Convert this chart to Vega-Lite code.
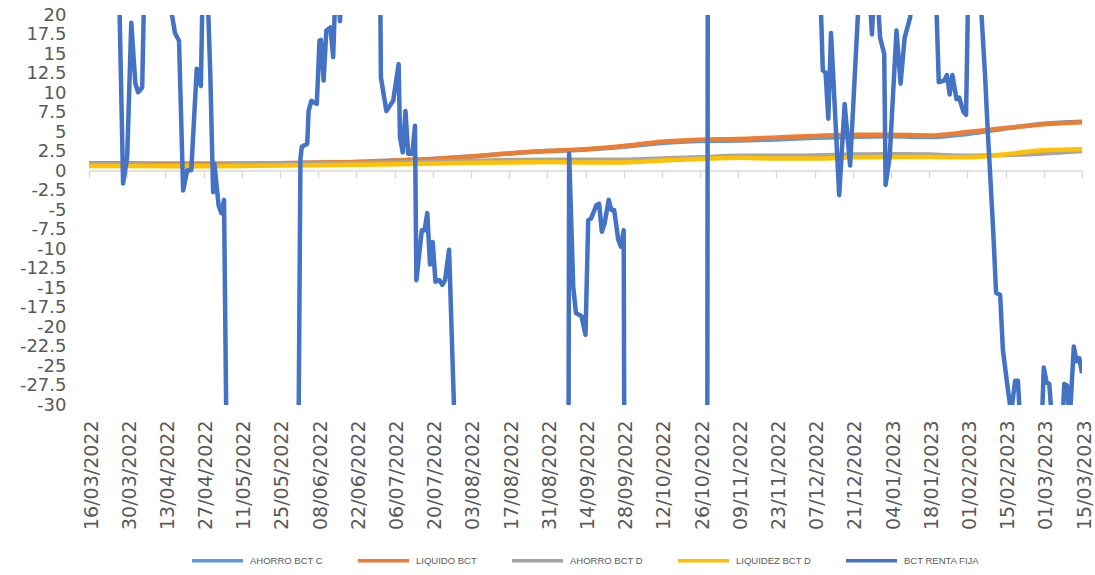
{
  "$schema": "https://vega.github.io/schema/vega-lite/v6.json",
  "width": 993,
  "height": 390,
  "autosize": {"type": "none"},
  "padding": {"left": 89, "top": 15, "right": 13, "bottom": 170},
  "background": "white",
  "config": {"view": {"stroke": null}},
  "datasets": {
    "axisrow": [{"d0": "2022-03-16T00:00", "d1": "2023-03-15T00:00"}],
    "smooth": [
      {"date":"2022-03-16T00:00","series":"AHORRO BCT C","value":0.9},
      {"date":"2022-03-30T00:00","series":"AHORRO BCT C","value":0.9},
      {"date":"2022-04-13T00:00","series":"AHORRO BCT C","value":0.85},
      {"date":"2022-04-27T00:00","series":"AHORRO BCT C","value":0.85},
      {"date":"2022-05-11T00:00","series":"AHORRO BCT C","value":0.9},
      {"date":"2022-05-25T00:00","series":"AHORRO BCT C","value":0.95},
      {"date":"2022-06-08T00:00","series":"AHORRO BCT C","value":1.05},
      {"date":"2022-06-22T00:00","series":"AHORRO BCT C","value":1.15},
      {"date":"2022-07-06T00:00","series":"AHORRO BCT C","value":1.35},
      {"date":"2022-07-20T00:00","series":"AHORRO BCT C","value":1.55},
      {"date":"2022-08-03T00:00","series":"AHORRO BCT C","value":1.85},
      {"date":"2022-08-17T00:00","series":"AHORRO BCT C","value":2.25},
      {"date":"2022-08-31T00:00","series":"AHORRO BCT C","value":2.55},
      {"date":"2022-09-14T00:00","series":"AHORRO BCT C","value":2.75},
      {"date":"2022-09-28T00:00","series":"AHORRO BCT C","value":3.1},
      {"date":"2022-10-12T00:00","series":"AHORRO BCT C","value":3.6},
      {"date":"2022-10-26T00:00","series":"AHORRO BCT C","value":3.85},
      {"date":"2022-11-09T00:00","series":"AHORRO BCT C","value":3.9},
      {"date":"2022-11-23T00:00","series":"AHORRO BCT C","value":4.05},
      {"date":"2022-12-07T00:00","series":"AHORRO BCT C","value":4.25},
      {"date":"2022-12-21T00:00","series":"AHORRO BCT C","value":4.4},
      {"date":"2023-01-04T00:00","series":"AHORRO BCT C","value":4.45},
      {"date":"2023-01-18T00:00","series":"AHORRO BCT C","value":4.35},
      {"date":"2023-02-01T00:00","series":"AHORRO BCT C","value":4.75},
      {"date":"2023-02-15T00:00","series":"AHORRO BCT C","value":5.45},
      {"date":"2023-03-01T00:00","series":"AHORRO BCT C","value":6.05},
      {"date":"2023-03-15T00:00","series":"AHORRO BCT C","value":6.3},
      {"date":"2022-03-16T00:00","series":"LIQUIDO BCT","value":1.0},
      {"date":"2022-03-30T00:00","series":"LIQUIDO BCT","value":1.0},
      {"date":"2022-04-13T00:00","series":"LIQUIDO BCT","value":0.95},
      {"date":"2022-04-27T00:00","series":"LIQUIDO BCT","value":0.95},
      {"date":"2022-05-11T00:00","series":"LIQUIDO BCT","value":0.95},
      {"date":"2022-05-25T00:00","series":"LIQUIDO BCT","value":1.0},
      {"date":"2022-06-08T00:00","series":"LIQUIDO BCT","value":1.1},
      {"date":"2022-06-22T00:00","series":"LIQUIDO BCT","value":1.15},
      {"date":"2022-07-06T00:00","series":"LIQUIDO BCT","value":1.35},
      {"date":"2022-07-20T00:00","series":"LIQUIDO BCT","value":1.55},
      {"date":"2022-08-03T00:00","series":"LIQUIDO BCT","value":1.85},
      {"date":"2022-08-17T00:00","series":"LIQUIDO BCT","value":2.25},
      {"date":"2022-08-31T00:00","series":"LIQUIDO BCT","value":2.55},
      {"date":"2022-09-14T00:00","series":"LIQUIDO BCT","value":2.8},
      {"date":"2022-09-28T00:00","series":"LIQUIDO BCT","value":3.2},
      {"date":"2022-10-12T00:00","series":"LIQUIDO BCT","value":3.75},
      {"date":"2022-10-26T00:00","series":"LIQUIDO BCT","value":4.0},
      {"date":"2022-11-09T00:00","series":"LIQUIDO BCT","value":4.1},
      {"date":"2022-11-23T00:00","series":"LIQUIDO BCT","value":4.3},
      {"date":"2022-12-07T00:00","series":"LIQUIDO BCT","value":4.5},
      {"date":"2022-12-21T00:00","series":"LIQUIDO BCT","value":4.65},
      {"date":"2023-01-04T00:00","series":"LIQUIDO BCT","value":4.65},
      {"date":"2023-01-18T00:00","series":"LIQUIDO BCT","value":4.55},
      {"date":"2023-02-01T00:00","series":"LIQUIDO BCT","value":5.0},
      {"date":"2023-02-15T00:00","series":"LIQUIDO BCT","value":5.5},
      {"date":"2023-03-01T00:00","series":"LIQUIDO BCT","value":6.0},
      {"date":"2023-03-15T00:00","series":"LIQUIDO BCT","value":6.25},
      {"date":"2022-03-16T00:00","series":"AHORRO BCT D","value":0.85},
      {"date":"2022-03-30T00:00","series":"AHORRO BCT D","value":0.85},
      {"date":"2022-04-13T00:00","series":"AHORRO BCT D","value":0.8},
      {"date":"2022-04-27T00:00","series":"AHORRO BCT D","value":0.8},
      {"date":"2022-05-11T00:00","series":"AHORRO BCT D","value":0.85},
      {"date":"2022-05-25T00:00","series":"AHORRO BCT D","value":0.9},
      {"date":"2022-06-08T00:00","series":"AHORRO BCT D","value":0.95},
      {"date":"2022-06-22T00:00","series":"AHORRO BCT D","value":1.0},
      {"date":"2022-07-06T00:00","series":"AHORRO BCT D","value":1.1},
      {"date":"2022-07-20T00:00","series":"AHORRO BCT D","value":1.2},
      {"date":"2022-08-03T00:00","series":"AHORRO BCT D","value":1.3},
      {"date":"2022-08-17T00:00","series":"AHORRO BCT D","value":1.4},
      {"date":"2022-08-31T00:00","series":"AHORRO BCT D","value":1.45},
      {"date":"2022-09-14T00:00","series":"AHORRO BCT D","value":1.45},
      {"date":"2022-09-28T00:00","series":"AHORRO BCT D","value":1.45},
      {"date":"2022-10-12T00:00","series":"AHORRO BCT D","value":1.6},
      {"date":"2022-10-26T00:00","series":"AHORRO BCT D","value":1.75},
      {"date":"2022-11-09T00:00","series":"AHORRO BCT D","value":1.95},
      {"date":"2022-11-23T00:00","series":"AHORRO BCT D","value":1.95},
      {"date":"2022-12-07T00:00","series":"AHORRO BCT D","value":2.0},
      {"date":"2022-12-21T00:00","series":"AHORRO BCT D","value":2.1},
      {"date":"2023-01-04T00:00","series":"AHORRO BCT D","value":2.15},
      {"date":"2023-01-18T00:00","series":"AHORRO BCT D","value":2.1},
      {"date":"2023-02-01T00:00","series":"AHORRO BCT D","value":1.95},
      {"date":"2023-02-15T00:00","series":"AHORRO BCT D","value":2.05},
      {"date":"2023-03-01T00:00","series":"AHORRO BCT D","value":2.25},
      {"date":"2023-03-15T00:00","series":"AHORRO BCT D","value":2.55},
      {"date":"2022-03-16T00:00","series":"LIQUIDEZ BCT D","value":0.65},
      {"date":"2022-03-30T00:00","series":"LIQUIDEZ BCT D","value":0.65},
      {"date":"2022-04-13T00:00","series":"LIQUIDEZ BCT D","value":0.62},
      {"date":"2022-04-27T00:00","series":"LIQUIDEZ BCT D","value":0.62},
      {"date":"2022-05-11T00:00","series":"LIQUIDEZ BCT D","value":0.65},
      {"date":"2022-05-25T00:00","series":"LIQUIDEZ BCT D","value":0.7},
      {"date":"2022-06-08T00:00","series":"LIQUIDEZ BCT D","value":0.75},
      {"date":"2022-06-22T00:00","series":"LIQUIDEZ BCT D","value":0.8},
      {"date":"2022-07-06T00:00","series":"LIQUIDEZ BCT D","value":0.85},
      {"date":"2022-07-20T00:00","series":"LIQUIDEZ BCT D","value":0.95},
      {"date":"2022-08-03T00:00","series":"LIQUIDEZ BCT D","value":1.05},
      {"date":"2022-08-17T00:00","series":"LIQUIDEZ BCT D","value":1.1},
      {"date":"2022-08-31T00:00","series":"LIQUIDEZ BCT D","value":1.15},
      {"date":"2022-09-14T00:00","series":"LIQUIDEZ BCT D","value":1.1},
      {"date":"2022-09-28T00:00","series":"LIQUIDEZ BCT D","value":1.1},
      {"date":"2022-10-12T00:00","series":"LIQUIDEZ BCT D","value":1.35},
      {"date":"2022-10-26T00:00","series":"LIQUIDEZ BCT D","value":1.55},
      {"date":"2022-11-09T00:00","series":"LIQUIDEZ BCT D","value":1.7},
      {"date":"2022-11-23T00:00","series":"LIQUIDEZ BCT D","value":1.6},
      {"date":"2022-12-07T00:00","series":"LIQUIDEZ BCT D","value":1.6},
      {"date":"2022-12-21T00:00","series":"LIQUIDEZ BCT D","value":1.75},
      {"date":"2023-01-04T00:00","series":"LIQUIDEZ BCT D","value":1.8},
      {"date":"2023-01-18T00:00","series":"LIQUIDEZ BCT D","value":1.8},
      {"date":"2023-02-01T00:00","series":"LIQUIDEZ BCT D","value":1.75},
      {"date":"2023-02-15T00:00","series":"LIQUIDEZ BCT D","value":2.15},
      {"date":"2023-03-01T00:00","series":"LIQUIDEZ BCT D","value":2.65},
      {"date":"2023-03-15T00:00","series":"LIQUIDEZ BCT D","value":2.8}
    ],
    "blue": [
      {"date":"2022-03-16T00:00","series":"BCT RENTA FIJA","value":40},
      {"date":"2022-03-22T00:00","series":"BCT RENTA FIJA","value":45},
      {"date":"2022-03-27T00:00","series":"BCT RENTA FIJA","value":24},
      {"date":"2022-03-28T12:00","series":"BCT RENTA FIJA","value":-1.6},
      {"date":"2022-03-30T00:00","series":"BCT RENTA FIJA","value":1.8},
      {"date":"2022-03-31T12:00","series":"BCT RENTA FIJA","value":19.0},
      {"date":"2022-04-02T00:00","series":"BCT RENTA FIJA","value":11.2},
      {"date":"2022-04-03T00:00","series":"BCT RENTA FIJA","value":10.1},
      {"date":"2022-04-04T12:00","series":"BCT RENTA FIJA","value":10.7},
      {"date":"2022-04-05T12:00","series":"BCT RENTA FIJA","value":28},
      {"date":"2022-04-10T00:00","series":"BCT RENTA FIJA","value":45},
      {"date":"2022-04-14T12:00","series":"BCT RENTA FIJA","value":22},
      {"date":"2022-04-16T12:00","series":"BCT RENTA FIJA","value":17.7},
      {"date":"2022-04-18T00:00","series":"BCT RENTA FIJA","value":16.7},
      {"date":"2022-04-19T12:00","series":"BCT RENTA FIJA","value":-2.5},
      {"date":"2022-04-21T00:00","series":"BCT RENTA FIJA","value":0.1},
      {"date":"2022-04-22T12:00","series":"BCT RENTA FIJA","value":0.1},
      {"date":"2022-04-24T12:00","series":"BCT RENTA FIJA","value":13.1},
      {"date":"2022-04-26T00:00","series":"BCT RENTA FIJA","value":10.9},
      {"date":"2022-04-27T00:00","series":"BCT RENTA FIJA","value":30},
      {"date":"2022-04-28T00:00","series":"BCT RENTA FIJA","value":28},
      {"date":"2022-04-29T12:00","series":"BCT RENTA FIJA","value":12},
      {"date":"2022-04-30T12:00","series":"BCT RENTA FIJA","value":-2.7},
      {"date":"2022-05-01T00:00","series":"BCT RENTA FIJA","value":0.9},
      {"date":"2022-05-02T12:00","series":"BCT RENTA FIJA","value":-4.4},
      {"date":"2022-05-03T12:00","series":"BCT RENTA FIJA","value":-5.4},
      {"date":"2022-05-04T12:00","series":"BCT RENTA FIJA","value":-3.7},
      {"date":"2022-05-05T12:00","series":"BCT RENTA FIJA","value":-38},
      {"date":"2022-05-15T00:00","series":"BCT RENTA FIJA","value":-60},
      {"date":"2022-05-25T00:00","series":"BCT RENTA FIJA","value":-60},
      {"date":"2022-05-31T12:00","series":"BCT RENTA FIJA","value":-50},
      {"date":"2022-06-01T12:00","series":"BCT RENTA FIJA","value":1.5},
      {"date":"2022-06-02T00:00","series":"BCT RENTA FIJA","value":3.1},
      {"date":"2022-06-04T00:00","series":"BCT RENTA FIJA","value":3.5},
      {"date":"2022-06-04T12:00","series":"BCT RENTA FIJA","value":7.7},
      {"date":"2022-06-05T12:00","series":"BCT RENTA FIJA","value":9.0},
      {"date":"2022-06-07T12:00","series":"BCT RENTA FIJA","value":8.6},
      {"date":"2022-06-08T12:00","series":"BCT RENTA FIJA","value":16.7},
      {"date":"2022-06-09T00:00","series":"BCT RENTA FIJA","value":16.8},
      {"date":"2022-06-10T00:00","series":"BCT RENTA FIJA","value":11.6},
      {"date":"2022-06-11T00:00","series":"BCT RENTA FIJA","value":18.0},
      {"date":"2022-06-12T12:00","series":"BCT RENTA FIJA","value":18.4},
      {"date":"2022-06-13T12:00","series":"BCT RENTA FIJA","value":14.6},
      {"date":"2022-06-14T00:00","series":"BCT RENTA FIJA","value":19.7},
      {"date":"2022-06-15T12:00","series":"BCT RENTA FIJA","value":24},
      {"date":"2022-06-16T00:00","series":"BCT RENTA FIJA","value":19.2},
      {"date":"2022-06-17T00:00","series":"BCT RENTA FIJA","value":26},
      {"date":"2022-06-24T00:00","series":"BCT RENTA FIJA","value":45},
      {"date":"2022-06-30T12:00","series":"BCT RENTA FIJA","value":35},
      {"date":"2022-07-01T00:00","series":"BCT RENTA FIJA","value":12.0},
      {"date":"2022-07-03T00:00","series":"BCT RENTA FIJA","value":7.7},
      {"date":"2022-07-05T12:00","series":"BCT RENTA FIJA","value":9.0},
      {"date":"2022-07-07T12:00","series":"BCT RENTA FIJA","value":13.7},
      {"date":"2022-07-08T00:00","series":"BCT RENTA FIJA","value":4.3},
      {"date":"2022-07-09T00:00","series":"BCT RENTA FIJA","value":2.4},
      {"date":"2022-07-10T00:00","series":"BCT RENTA FIJA","value":7.7},
      {"date":"2022-07-11T00:00","series":"BCT RENTA FIJA","value":2.2},
      {"date":"2022-07-12T12:00","series":"BCT RENTA FIJA","value":2.2},
      {"date":"2022-07-13T12:00","series":"BCT RENTA FIJA","value":5.8},
      {"date":"2022-07-14T00:00","series":"BCT RENTA FIJA","value":-14.0},
      {"date":"2022-07-16T00:00","series":"BCT RENTA FIJA","value":-7.6},
      {"date":"2022-07-17T00:00","series":"BCT RENTA FIJA","value":-7.6},
      {"date":"2022-07-18T00:00","series":"BCT RENTA FIJA","value":-5.4},
      {"date":"2022-07-19T00:00","series":"BCT RENTA FIJA","value":-12.0},
      {"date":"2022-07-20T00:00","series":"BCT RENTA FIJA","value":-9.1},
      {"date":"2022-07-21T00:00","series":"BCT RENTA FIJA","value":-14.2},
      {"date":"2022-07-22T12:00","series":"BCT RENTA FIJA","value":-14.0},
      {"date":"2022-07-23T12:00","series":"BCT RENTA FIJA","value":-14.6},
      {"date":"2022-07-24T12:00","series":"BCT RENTA FIJA","value":-14.0},
      {"date":"2022-07-26T00:00","series":"BCT RENTA FIJA","value":-10.1},
      {"date":"2022-07-27T12:00","series":"BCT RENTA FIJA","value":-27},
      {"date":"2022-07-28T12:00","series":"BCT RENTA FIJA","value":-38},
      {"date":"2022-08-08T00:00","series":"BCT RENTA FIJA","value":-60},
      {"date":"2022-08-28T00:00","series":"BCT RENTA FIJA","value":-60},
      {"date":"2022-09-07T12:00","series":"BCT RENTA FIJA","value":-80},
      {"date":"2022-09-08T00:00","series":"BCT RENTA FIJA","value":2.2},
      {"date":"2022-09-09T12:00","series":"BCT RENTA FIJA","value":-14.8},
      {"date":"2022-09-10T12:00","series":"BCT RENTA FIJA","value":-18.2},
      {"date":"2022-09-12T12:00","series":"BCT RENTA FIJA","value":-18.6},
      {"date":"2022-09-14T00:00","series":"BCT RENTA FIJA","value":-21.0},
      {"date":"2022-09-15T00:00","series":"BCT RENTA FIJA","value":-6.3},
      {"date":"2022-09-16T00:00","series":"BCT RENTA FIJA","value":-6.1},
      {"date":"2022-09-18T00:00","series":"BCT RENTA FIJA","value":-4.4},
      {"date":"2022-09-19T00:00","series":"BCT RENTA FIJA","value":-4.2},
      {"date":"2022-09-20T00:00","series":"BCT RENTA FIJA","value":-7.8},
      {"date":"2022-09-21T00:00","series":"BCT RENTA FIJA","value":-6.7},
      {"date":"2022-09-22T12:00","series":"BCT RENTA FIJA","value":-3.7},
      {"date":"2022-09-23T12:00","series":"BCT RENTA FIJA","value":-5.0},
      {"date":"2022-09-24T12:00","series":"BCT RENTA FIJA","value":-5.0},
      {"date":"2022-09-26T00:00","series":"BCT RENTA FIJA","value":-8.8},
      {"date":"2022-09-27T00:00","series":"BCT RENTA FIJA","value":-9.7},
      {"date":"2022-09-28T00:00","series":"BCT RENTA FIJA","value":-7.6},
      {"date":"2022-09-28T12:00","series":"BCT RENTA FIJA","value":-70},
      {"date":"2022-10-07T00:00","series":"BCT RENTA FIJA","value":-60},
      {"date":"2022-10-20T00:00","series":"BCT RENTA FIJA","value":-60},
      {"date":"2022-10-28T12:00","series":"BCT RENTA FIJA","value":-90},
      {"date":"2022-10-29T00:00","series":"BCT RENTA FIJA","value":90},
      {"date":"2022-11-11T00:00","series":"BCT RENTA FIJA","value":60},
      {"date":"2022-11-26T00:00","series":"BCT RENTA FIJA","value":50},
      {"date":"2022-12-09T00:00","series":"BCT RENTA FIJA","value":24},
      {"date":"2022-12-10T00:00","series":"BCT RENTA FIJA","value":12.9},
      {"date":"2022-12-11T00:00","series":"BCT RENTA FIJA","value":12.6},
      {"date":"2022-12-12T00:00","series":"BCT RENTA FIJA","value":6.7},
      {"date":"2022-12-13T00:00","series":"BCT RENTA FIJA","value":17.7},
      {"date":"2022-12-16T00:00","series":"BCT RENTA FIJA","value":-3.1},
      {"date":"2022-12-18T00:00","series":"BCT RENTA FIJA","value":8.6},
      {"date":"2022-12-20T00:00","series":"BCT RENTA FIJA","value":0.7},
      {"date":"2022-12-23T00:00","series":"BCT RENTA FIJA","value":21},
      {"date":"2022-12-25T00:00","series":"BCT RENTA FIJA","value":30},
      {"date":"2022-12-27T00:00","series":"BCT RENTA FIJA","value":24},
      {"date":"2022-12-28T00:00","series":"BCT RENTA FIJA","value":17.5},
      {"date":"2022-12-29T00:00","series":"BCT RENTA FIJA","value":25},
      {"date":"2022-12-30T00:00","series":"BCT RENTA FIJA","value":23},
      {"date":"2022-12-31T00:00","series":"BCT RENTA FIJA","value":17.1},
      {"date":"2023-01-01T12:00","series":"BCT RENTA FIJA","value":15.0},
      {"date":"2023-01-02T00:00","series":"BCT RENTA FIJA","value":-1.8},
      {"date":"2023-01-03T12:00","series":"BCT RENTA FIJA","value":1.8},
      {"date":"2023-01-06T00:00","series":"BCT RENTA FIJA","value":18.0},
      {"date":"2023-01-07T12:00","series":"BCT RENTA FIJA","value":11.2},
      {"date":"2023-01-09T00:00","series":"BCT RENTA FIJA","value":17.1},
      {"date":"2023-01-11T00:00","series":"BCT RENTA FIJA","value":19.7},
      {"date":"2023-01-12T00:00","series":"BCT RENTA FIJA","value":23},
      {"date":"2023-01-16T00:00","series":"BCT RENTA FIJA","value":45},
      {"date":"2023-01-20T00:00","series":"BCT RENTA FIJA","value":28},
      {"date":"2023-01-21T12:00","series":"BCT RENTA FIJA","value":11.4},
      {"date":"2023-01-23T12:00","series":"BCT RENTA FIJA","value":11.6},
      {"date":"2023-01-24T12:00","series":"BCT RENTA FIJA","value":12.3},
      {"date":"2023-01-25T12:00","series":"BCT RENTA FIJA","value":9.8},
      {"date":"2023-01-26T12:00","series":"BCT RENTA FIJA","value":12.3},
      {"date":"2023-01-28T00:00","series":"BCT RENTA FIJA","value":9.2},
      {"date":"2023-01-29T00:00","series":"BCT RENTA FIJA","value":9.4},
      {"date":"2023-01-30T12:00","series":"BCT RENTA FIJA","value":7.6},
      {"date":"2023-01-31T12:00","series":"BCT RENTA FIJA","value":7.2},
      {"date":"2023-02-01T12:00","series":"BCT RENTA FIJA","value":28},
      {"date":"2023-02-05T00:00","series":"BCT RENTA FIJA","value":45},
      {"date":"2023-02-06T00:00","series":"BCT RENTA FIJA","value":21},
      {"date":"2023-02-07T12:00","series":"BCT RENTA FIJA","value":12},
      {"date":"2023-02-08T12:00","series":"BCT RENTA FIJA","value":4.8},
      {"date":"2023-02-09T12:00","series":"BCT RENTA FIJA","value":-1.5},
      {"date":"2023-02-10T12:00","series":"BCT RENTA FIJA","value":-8.0},
      {"date":"2023-02-11T12:00","series":"BCT RENTA FIJA","value":-15.6},
      {"date":"2023-02-13T00:00","series":"BCT RENTA FIJA","value":-15.9},
      {"date":"2023-02-14T00:00","series":"BCT RENTA FIJA","value":-22.9},
      {"date":"2023-02-15T12:00","series":"BCT RENTA FIJA","value":-27.1},
      {"date":"2023-02-17T00:00","series":"BCT RENTA FIJA","value":-31},
      {"date":"2023-02-18T12:00","series":"BCT RENTA FIJA","value":-26.9},
      {"date":"2023-02-19T12:00","series":"BCT RENTA FIJA","value":-26.9},
      {"date":"2023-02-20T12:00","series":"BCT RENTA FIJA","value":-33},
      {"date":"2023-02-23T00:00","series":"BCT RENTA FIJA","value":-40},
      {"date":"2023-02-26T00:00","series":"BCT RENTA FIJA","value":-40},
      {"date":"2023-02-28T00:00","series":"BCT RENTA FIJA","value":-35},
      {"date":"2023-03-01T00:00","series":"BCT RENTA FIJA","value":-25.2},
      {"date":"2023-03-02T00:00","series":"BCT RENTA FIJA","value":-27.1},
      {"date":"2023-03-03T00:00","series":"BCT RENTA FIJA","value":-27.3},
      {"date":"2023-03-04T00:00","series":"BCT RENTA FIJA","value":-32},
      {"date":"2023-03-06T00:00","series":"BCT RENTA FIJA","value":-38},
      {"date":"2023-03-07T12:00","series":"BCT RENTA FIJA","value":-35},
      {"date":"2023-03-08T12:00","series":"BCT RENTA FIJA","value":-27.3},
      {"date":"2023-03-09T12:00","series":"BCT RENTA FIJA","value":-27.5},
      {"date":"2023-03-10T12:00","series":"BCT RENTA FIJA","value":-32},
      {"date":"2023-03-12T00:00","series":"BCT RENTA FIJA","value":-22.5},
      {"date":"2023-03-13T00:00","series":"BCT RENTA FIJA","value":-24.4},
      {"date":"2023-03-14T00:00","series":"BCT RENTA FIJA","value":-24.0},
      {"date":"2023-03-15T00:00","series":"BCT RENTA FIJA","value":-25.9}
    ]
  },
  "resolve": {"axis": {"x": "independent", "y": "independent"}},
  "layer": [
    {
      "data": {"name": "axisrow"},
      "mark": {"type": "rule", "color": "#D9D9D9", "strokeWidth": 1.5},
      "encoding": {
        "x": {
          "field": "d0", "type": "temporal",
          "scale": {"domain": [{"year": 2022, "month": 3, "date": 16}, {"year": 2023, "month": 3, "date": 15}], "nice": false},
          "axis": {
            "orient": "top", "offset": -156, "title": null, "labels": false, "domain": false, "grid": false,
            "ticks": true, "tickSize": -7, "tickColor": "#D9D9D9", "tickWidth": 1.5,
            "values": [
              {"year":2022,"month":3,"date":16},{"year":2022,"month":3,"date":30},{"year":2022,"month":4,"date":13},{"year":2022,"month":4,"date":27},
              {"year":2022,"month":5,"date":11},{"year":2022,"month":5,"date":25},{"year":2022,"month":6,"date":8},{"year":2022,"month":6,"date":22},
              {"year":2022,"month":7,"date":6},{"year":2022,"month":7,"date":20},{"year":2022,"month":8,"date":3},{"year":2022,"month":8,"date":17},
              {"year":2022,"month":8,"date":31},{"year":2022,"month":9,"date":14},{"year":2022,"month":9,"date":28},{"year":2022,"month":10,"date":12},
              {"year":2022,"month":10,"date":26},{"year":2022,"month":11,"date":9},{"year":2022,"month":11,"date":23},{"year":2022,"month":12,"date":7},
              {"year":2022,"month":12,"date":21},{"year":2023,"month":1,"date":4},{"year":2023,"month":1,"date":18},{"year":2023,"month":2,"date":1},
              {"year":2023,"month":2,"date":15},{"year":2023,"month":3,"date":1},{"year":2023,"month":3,"date":15}
            ]
          }
        },
        "x2": {"field": "d1"},
        "y": {"datum": 0, "type": "quantitative", "axis": null}
      }
    },
    {
      "data": {"name": "smooth"},
      "mark": {"type": "line", "strokeWidth": 4.5, "strokeJoin": "round", "interpolate": "monotone", "clip": true},
      "encoding": {
        "x": {
          "field": "date", "type": "temporal",
          "axis": {
            "orient": "bottom", "title": null, "domain": false, "ticks": false, "tickSize": 0, "grid": false,
            "labelAngle": -90, "labelPadding": 15, "labelOffset": 2, "labelFont": "DejaVu Sans", "labelFontSize": 19,
            "labelColor": "#595959", "labelOverlap": false, "labelFlush": false, "format": "%d/%m/%Y",
            "values": [
              {"year":2022,"month":3,"date":16},{"year":2022,"month":3,"date":30},{"year":2022,"month":4,"date":13},{"year":2022,"month":4,"date":27},
              {"year":2022,"month":5,"date":11},{"year":2022,"month":5,"date":25},{"year":2022,"month":6,"date":8},{"year":2022,"month":6,"date":22},
              {"year":2022,"month":7,"date":6},{"year":2022,"month":7,"date":20},{"year":2022,"month":8,"date":3},{"year":2022,"month":8,"date":17},
              {"year":2022,"month":8,"date":31},{"year":2022,"month":9,"date":14},{"year":2022,"month":9,"date":28},{"year":2022,"month":10,"date":12},
              {"year":2022,"month":10,"date":26},{"year":2022,"month":11,"date":9},{"year":2022,"month":11,"date":23},{"year":2022,"month":12,"date":7},
              {"year":2022,"month":12,"date":21},{"year":2023,"month":1,"date":4},{"year":2023,"month":1,"date":18},{"year":2023,"month":2,"date":1},
              {"year":2023,"month":2,"date":15},{"year":2023,"month":3,"date":1},{"year":2023,"month":3,"date":15}
            ]
          }
        },
        "y": {
          "field": "value", "type": "quantitative",
          "scale": {"domain": [-30, 20], "nice": false, "zero": false},
          "axis": {
            "orient": "left", "title": null, "domain": false, "ticks": false, "tickSize": 0, "grid": false,
            "values": [-30,-27.5,-25,-22.5,-20,-17.5,-15,-12.5,-10,-7.5,-5,-2.5,0,2.5,5,7.5,10,12.5,15,17.5,20],
            "labelExpr": "'' + datum.value", "labelPadding": 23, "labelFont": "DejaVu Sans", "labelFontSize": 18,
            "labelColor": "#595959", "labelOverlap": false, "labelFlush": false
          }
        },
        "color": {
          "field": "series", "type": "nominal",
          "scale": {
            "domain": ["AHORRO BCT C", "LIQUIDO BCT", "AHORRO BCT D", "LIQUIDEZ BCT D", "BCT RENTA FIJA"],
            "range": ["#5B9BD5", "#ED7D31", "#A5A5A5", "#FFC000", "#4472C4"]
          },
          "legend": {
            "orient": "none", "legendX": 101, "legendY": 518, "direction": "horizontal", "columns": 5, "title": null,
            "symbolType": "stroke", "symbolSize": 2600, "symbolStrokeWidth": 3.5,
            "labelFont": "Liberation Sans", "labelFontSize": 9.5, "labelColor": "#595959",
            "columnPadding": 28, "labelOffset": 5
          }
        }
      }
    },
    {
      "data": {"name": "blue"},
      "mark": {"type": "line", "strokeWidth": 4.5, "strokeJoin": "round", "clip": true},
      "encoding": {
        "x": {"field": "date", "type": "temporal", "axis": null},
        "y": {"field": "value", "type": "quantitative", "axis": null},
        "color": {"field": "series", "type": "nominal"}
      }
    }
  ]
}
